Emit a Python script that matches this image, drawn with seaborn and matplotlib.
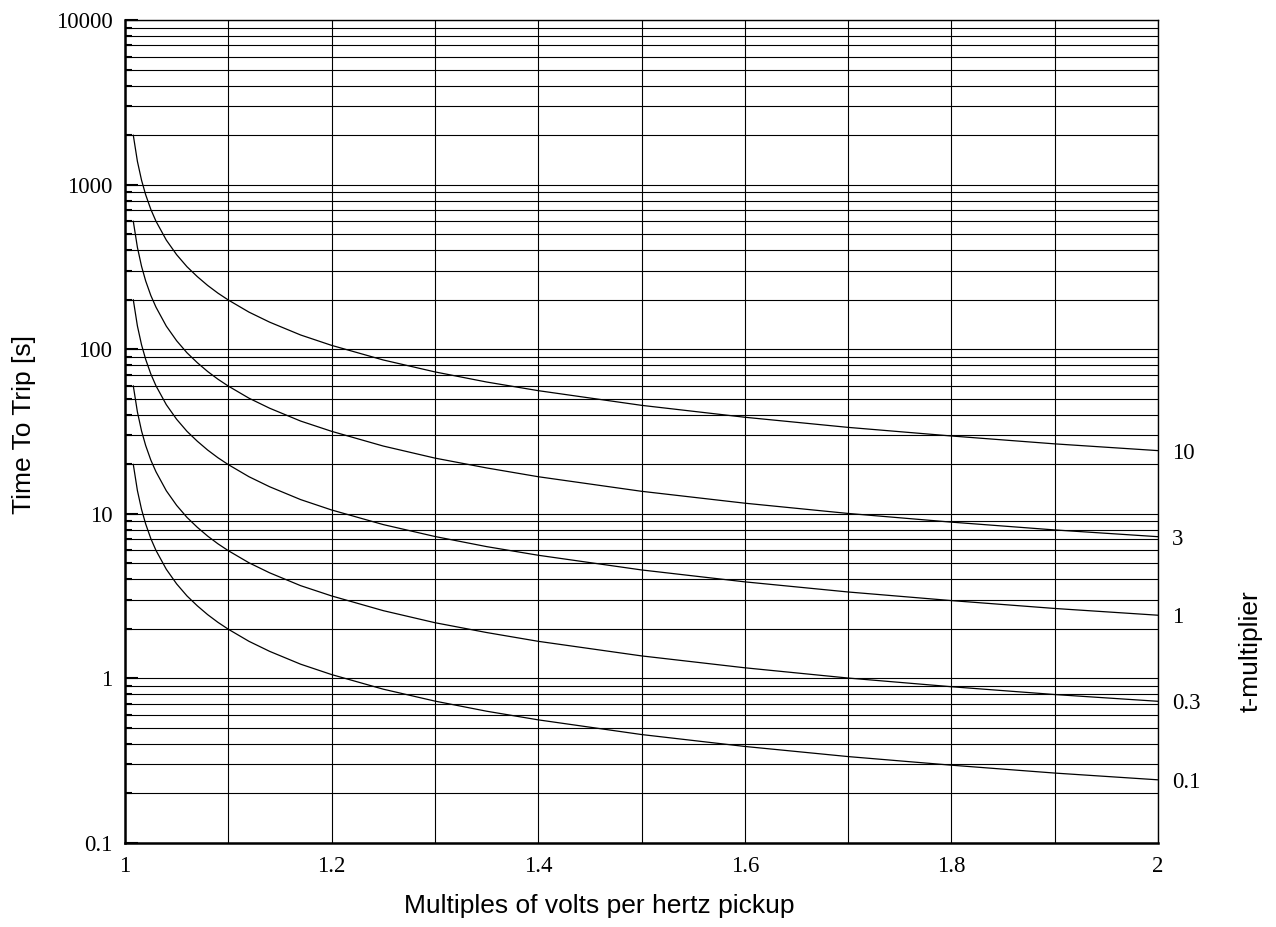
import numpy as np
import pandas as pd
import matplotlib
matplotlib.use("Agg")
import matplotlib.pyplot as plt
from matplotlib.ticker import FixedLocator, FuncFormatter, NullFormatter, MultipleLocator
import seaborn as sns

# ---- data ----
vph = [1.008, 1.012, 1.016, 1.02, 1.025, 1.03, 1.04, 1.05, 1.06, 1.07, 1.08, 1.09,
       1.10, 1.12, 1.14, 1.17, 1.20, 1.25, 1.30, 1.35, 1.40, 1.50, 1.60, 1.70,
       1.80, 1.90, 2.00]

t_10 = [2000, 1385, 1064, 868, 707, 599, 460, 375, 317, 276, 244, 219,
        199, 168, 146, 122, 105.5, 86, 72.8, 63.2, 56, 45.6, 38.6, 33.5,
        29.7, 26.6, 24.2]
t_3 = [600, 416, 319, 260, 212, 180, 138, 112.5, 95.1, 82.8, 73.2, 65.7,
       59.7, 50.4, 43.8, 36.6, 31.7, 25.8, 21.8, 19.0, 16.8, 13.7, 11.6, 10.05,
       8.9, 7.98, 7.26]
t_1 = [200, 138.5, 106.4, 86.8, 70.7, 59.9, 46.0, 37.5, 31.7, 27.6, 24.4, 21.9,
       19.9, 16.8, 14.6, 12.2, 10.55, 8.6, 7.28, 6.32, 5.6, 4.56, 3.86, 3.35,
       2.97, 2.66, 2.42]
t_03 = [60, 41.6, 31.9, 26.0, 21.2, 18.0, 13.8, 11.25, 9.51, 8.28, 7.32, 6.57,
        5.97, 5.04, 4.38, 3.66, 3.17, 2.58, 2.18, 1.90, 1.68, 1.37, 1.16, 1.005,
        0.89, 0.798, 0.726]
t_01 = [20, 13.85, 10.64, 8.68, 7.07, 5.99, 4.60, 3.75, 3.17, 2.76, 2.44, 2.19,
        1.99, 1.68, 1.46, 1.22, 1.055, 0.86, 0.728, 0.632, 0.56, 0.456, 0.386, 0.335,
        0.297, 0.266, 0.242]

multipliers = ["10", "3", "1", "0.3", "0.1"]
series = [t_10, t_3, t_1, t_03, t_01]

y_ticks = [0.1, 1, 10, 100, 1000, 10000]
x_ticks = [1, 1.2, 1.4, 1.6, 1.8, 2]

# ---- build table ----
rows = []
for m, vals in zip(multipliers, series):
    for x, y in zip(vph, vals):
        rows.append({"vph": x, "t": y, "tdm": m})
df = pd.DataFrame(rows)

sns.set_theme(style="white")
plt.rcParams["font.family"] = ["Liberation Sans", "DejaVu Sans"]

W, H = 1276, 927
fig = plt.figure(figsize=(W / 100, H / 100), dpi=100)
ax = fig.add_axes([125 / W, 1 - 843 / H, (1158 - 125) / W, (843 - 20) / H])

sns.lineplot(data=df, x="vph", y="t", hue="tdm", units="tdm", estimator=None,
             palette=["black"] * 5, legend=False, linewidth=0.9, ax=ax, sort=True)

ax.set_yscale("log")
ax.set_ylim(0.1, 10000)
ax.set_xlim(1, 2)

serif = ["Liberation Serif", "DejaVu Serif"]
tick_fs = 16.5
label_fs = 19

ax.yaxis.set_major_locator(FixedLocator(y_ticks))
ax.yaxis.set_major_formatter(FuncFormatter(lambda v, p: f"{v:g}"))
ax.yaxis.set_minor_formatter(NullFormatter())
ax.xaxis.set_major_locator(FixedLocator(x_ticks))
ax.xaxis.set_major_formatter(FuncFormatter(lambda v, p: f"{v:g}"))
ax.xaxis.set_minor_locator(MultipleLocator(0.1))

ax.grid(True, which="both", axis="both", color="black", linewidth=0.8)
ax.tick_params(axis="y", which="major", direction="in", length=9.5, width=1.5,
               left=True, right=False, pad=9, labelsize=tick_fs, color="black")
ax.tick_params(axis="y", which="minor", direction="in", length=5, width=1.5,
               left=True, right=False, color="black")
ax.tick_params(axis="x", which="both", length=0, pad=9, labelsize=tick_fs)
for lab in ax.get_xticklabels() + ax.get_yticklabels():
    lab.set_family(serif)
    lab.set_color("black")

for side, sp in ax.spines.items():
    sp.set_visible(True)
    sp.set_color("black")
    sp.set_linewidth(1.8 if side in ("left", "bottom") else 1.0)

ax.set_xlabel("")
ax.set_ylabel("")

# right-hand multiplier labels at the curve ends
ax2 = ax.twinx()
ax2.set_yscale("log")
ax2.set_ylim(ax.get_ylim())
ends = [vals[-1] for vals in series]
ax2.set_yticks(ends)
ax2.set_yticklabels(multipliers)
ax2.yaxis.set_minor_locator(FixedLocator([]))
ax2.tick_params(axis="y", which="both", length=0, pad=10, labelsize=tick_fs)
for lab in ax2.get_yticklabels():
    lab.set_family(serif)
    lab.set_color("black")
ax2.set_ylabel("")
ax2.grid(False)
for sp in ax2.spines.values():
    sp.set_visible(False)

# axis titles
fig.text(599 / W, 1 - 906 / H, "Multiples of volts per hertz pickup",
         ha="center", va="center", fontsize=label_fs, color="black")
fig.text(24 / W, 1 - 425 / H, "Time To Trip [s]", rotation=90,
         ha="center", va="center", fontsize=label_fs, color="black")
fig.text(1251 / W, 1 - 651 / H, "t-multiplier", rotation=90,
         ha="center", va="center", fontsize=label_fs, color="black")

fig.savefig("out.png", dpi=100, facecolor="white")
